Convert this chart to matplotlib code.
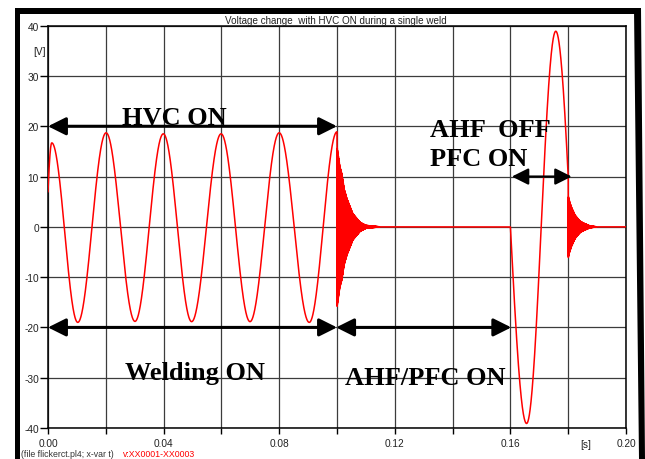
import numpy as np
import matplotlib.pyplot as plt
from matplotlib.patches import Rectangle, Polygon

plt.rcParams['font.family'] = ['Liberation Sans', 'DejaVu Sans']
plt.rcParams['axes.unicode_minus'] = False

# ---- data ----------------------------------------------------------------
# welding part: extrema of the 50 Hz voltage (first knot is the start value)
t_weld = [0.0, 0.0013, 0.0103, 0.0201, 0.0301, 0.0399, 0.0497, 0.0599, 0.0699, 0.0800, 0.0904, 0.1000]
v_weld = [7.0, 16.7, -19.0, 18.7, -18.8, 18.5, -18.85, 18.5, -18.85, 18.7, -19.0, 18.9]
pk_weld = [False] + [True] * 11

# AHF off: one big cycle, last knot is where it is cut off
t_pulse = [0.1600, 0.1656, 0.1757, 0.1800]
v_pulse = [0.0, -39.1, 38.9, 10.0]
pk_pulse = [False, True, True, False]

# damped ringing after switching (time after switching, envelope in V)
ring1_start = 0.100
ring1_dt = [0.0, 0.0005, 0.0010, 0.0017, 0.0025, 0.0035, 0.0055, 0.0080, 0.0100, 0.0150]
ring1_amp = [16.0, 14.0, 12.0, 10.5, 7.5, 5.5, 2.6, 0.9, 0.3, 0.0]
ring2_start = 0.180
ring2_dt = [0.0, 0.0005, 0.0012, 0.0024, 0.0040, 0.0051, 0.0075, 0.0100]
ring2_amp = [6.2, 5.0, 3.8, 2.3, 1.2, 0.8, 0.2, 0.0]
ring_freq = 10000.0

x_ticks = [0.00, 0.02, 0.04, 0.06, 0.08, 0.10, 0.12, 0.14, 0.16, 0.18, 0.20]
x_labels = ['0.00', '', '0.04', '', '0.08', '', '0.12', '', '0.16', '', '0.20']
y_ticks = [-40, -30, -20, -10, 0, 10, 20, 30, 40]


def arcs(t, tk, vk, pk):
    """join the knots with cosine arcs"""
    v = np.zeros_like(t)
    for i in range(len(tk) - 1):
        t0, t1, a, b = tk[i], tk[i + 1], vk[i], vk[i + 1]
        m = (t >= t0) & (t <= t1)
        if pk[i] and pk[i + 1]:
            v[m] = (a + b) / 2 + (a - b) / 2 * np.cos(np.pi * (t[m] - t0) / (t1 - t0))
        elif pk[i + 1]:
            half = np.pi * (t1 - t0) / np.arccos(a / b)
            v[m] = b * np.cos(np.pi * (t[m] - t1) / half)
        else:
            half = np.pi * (t1 - t0) / np.arccos(b / a)
            v[m] = a * np.cos(np.pi * (t[m] - t0) / half)
    return v


def ring(t, t0, dt, amp):
    out = np.zeros_like(t)
    m = t > t0
    env = np.interp(t[m] - t0, dt, amp, right=0.0)
    out[m] = env * np.cos(2 * np.pi * ring_freq * (t[m] - t0))
    return out


t = np.linspace(0, 0.2, 200001)
v = arcs(t, t_weld, v_weld, pk_weld) + arcs(t, t_pulse, v_pulse, pk_pulse)
v += ring(t, ring1_start, ring1_dt, ring1_amp) + ring(t, ring2_start, ring2_dt, ring2_amp)

# ---- figure --------------------------------------------------------------
fig = plt.figure(figsize=(6.45, 4.6), dpi=100)
ax = fig.add_axes([48 / 645, 1 - 429 / 460, 578 / 645, 402.3 / 460])

ax.plot(t, v, color='red', lw=1.1, zorder=3)

ax.set_xlim(0, 0.2)
ax.set_ylim(-40, 40)
ax.set_xticks(x_ticks)
ax.set_xticklabels(x_labels)
ax.set_yticks(y_ticks)
ax.grid(True, color='#3c3c3c', lw=0.9)
ax.tick_params(axis='both', direction='out', labelsize=7.3, labelcolor='#222222', width=1.0)
ax.tick_params(axis='y', length=5.5, pad=1)
ax.tick_params(axis='x', length=4, pad=3)
for s in ax.spines.values():
    s.set_linewidth(1.1)

ax.text(-0.0007, 35, '[V]', ha='right', va='center', fontsize=7.3, color='#222222', clip_on=False)
ax.text(0.186, -0.027, '[s]', transform=ax.get_xaxis_transform(), ha='center', va='top',
        fontsize=7.3, color='#222222')

# ---- annotations ---------------------------------------------------------
arrow = dict(arrowstyle='<|-|>,head_length=0.4,head_width=0.2', mutation_scale=27,
             lw=2.2, color='black', shrinkA=0, shrinkB=0)
ax.annotate('', xy=(0.1, 20), xytext=(0.0, 20), arrowprops=arrow, zorder=4)
ax.annotate('', xy=(0.1, -20), xytext=(0.0, -20), arrowprops=arrow, zorder=4)
ax.annotate('', xy=(0.1603, -20), xytext=(0.0997, -20), arrowprops=arrow, zorder=4)
arrow2 = dict(arrow, lw=1.6, mutation_scale=25)
ax.annotate('', xy=(0.1812, 10), xytext=(0.1605, 10), arrowprops=arrow2, zorder=4)

bold = dict(family=['Liberation Serif', 'DejaVu Serif'], fontweight='bold', fontsize=19)
ax.text(0.0439, 20.4, 'HVC ON', ha='center', va='baseline', **bold)
ax.text(0.0507, -30.3, 'Welding ON', ha='center', va='baseline', **bold)
ax.text(0.1304, -31.3, 'AHF/PFC ON', ha='center', va='baseline', **bold)
ax.text(0.1322, 18.1, 'AHF  OFF', ha='left', va='baseline', **bold)
ax.text(0.1322, 12.2, 'PFC ON', ha='left', va='baseline', **bold)

# ---- title, footer, frame ------------------------------------------------
fig.text(336 / 645, 1 - 20.5 / 460, 'Voltage change  with HVC ON during a single weld',
         ha='center', va='center', fontsize=7.1, color='#222222')
fig.text(21 / 645, 1 - 455 / 460, '(file flickerct.pl4; x-var t)', ha='left', va='center',
         fontsize=6.3, color='#333333')
fig.text(123 / 645, 1 - 455 / 460, 'v:XX0001-XX0003', ha='left', va='center',
         fontsize=6.3, color='red')

fig.add_artist(Rectangle((15 / 645, 0), 5 / 645, 1 - 9 / 460, transform=fig.transFigure,
                         color='black', lw=0))
fig.add_artist(Rectangle((15 / 645, 1 - 15 / 460), 625 / 645, 6 / 460, transform=fig.transFigure,
                         color='black', lw=0))
fig.add_artist(Polygon([(634 / 645, 1 - 9 / 460), (641 / 645, 1 - 9 / 460),
                        (645 / 645, 0), (639 / 645, 0)], closed=True,
                       transform=fig.transFigure, color='black', lw=0))

fig.savefig('out.png', dpi=100)
